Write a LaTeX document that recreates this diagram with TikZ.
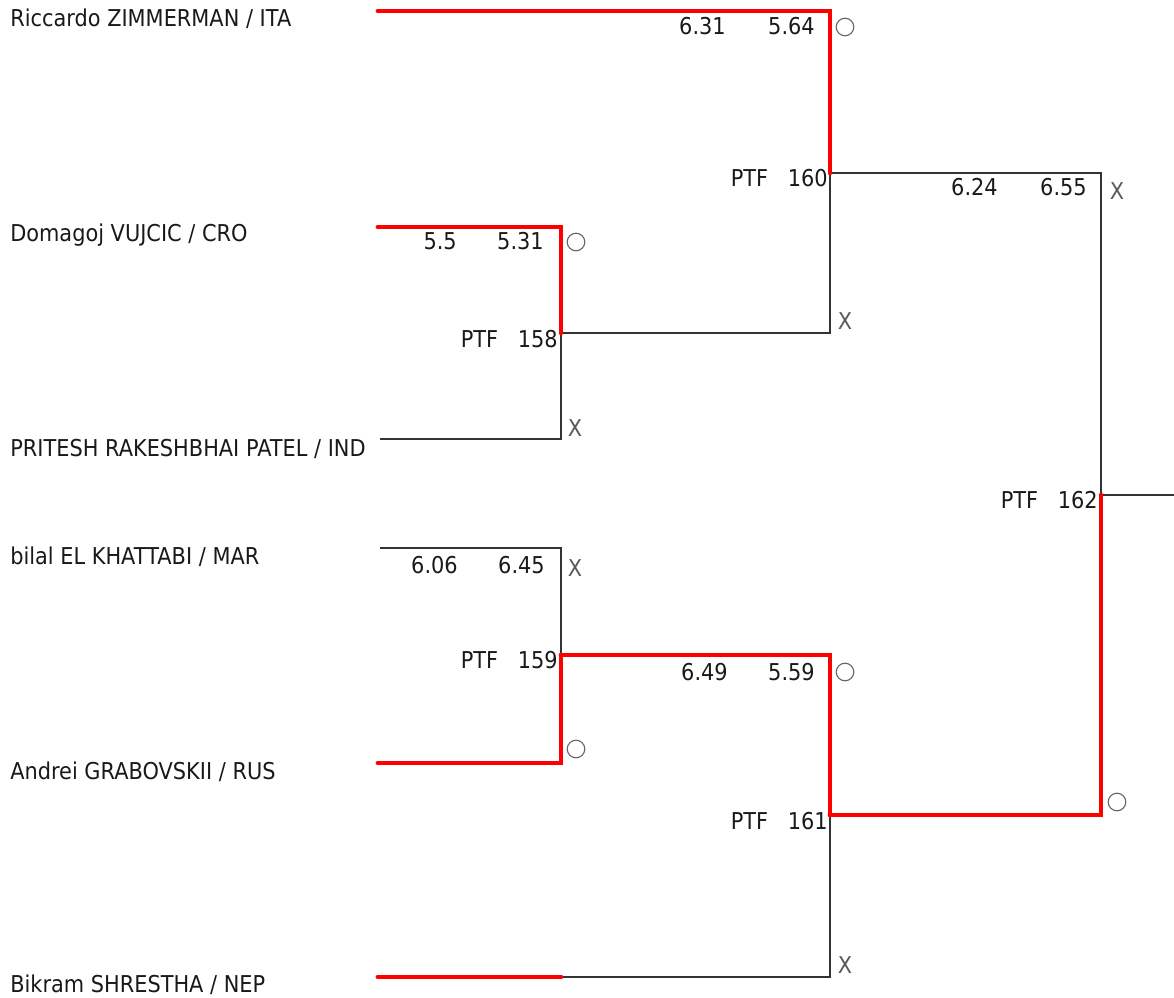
\documentclass[tikz,border=0pt]{standalone}
\usepackage{fontspec}
\setmainfont{DejaVu Sans}[FakeStretch=0.9]
\usetikzlibrary{positioning}

\begin{document}
\begin{tikzpicture}[x=0.025cm, y=-0.025cm]
        \tikzstyle{every node}=[font=\fontsize{16.5}{20}\selectfont, text=black!90, inner sep=0pt]
        \tikzstyle{player}=[anchor=base west]
        \tikzstyle{score}=[anchor=base east]
        \tikzstyle{bout}=[anchor=base east]
        \tikzstyle{lost}=[draw=black!80, line width=1.1pt]
        \tikzstyle{won}=[draw=red, line width=3.4pt, line cap=round]
        \tikzstyle{winmark}=[circle, draw=black!60, line width=0.8pt, minimum size=0.44cm]
        \tikzstyle{lossmark}=[text=black!65]

        \useasboundingbox (0,0) rectangle (1174,997);

        % fencers
        \node[player] (ita) at (10,27)  {Riccardo ZIMMERMAN / ITA};
        \node[player] (cro) at (10,242) {Domagoj VUJCIC / CRO};
        \node[player] (ind) at (10,456) {PRITESH RAKESHBHAI PATEL / IND};
        \node[player] (mar) at (10,564) {bilal EL KHATTABI / MAR};
        \node[player] (rus) at (10,779) {Andrei GRABOVSKII / RUS};
        \node[player] (nep) at (10,992) {Bikram SHRESTHA / NEP};

        % where the lines start
        \coordinate (ita 0) at (378,11);
        \coordinate (cro 0) at (378,227);
        \coordinate (ind 0) at (380,439);
        \coordinate (mar 0) at (380,548);
        \coordinate (rus 0) at (378,763);
        \coordinate (nep 0) at (378,977);
        \coordinate (nep 1) at (561,977);

        % bouts
        \coordinate (158) at (561,333);
        \coordinate (159) at (561,655);
        \coordinate (160) at (830,173);
        \coordinate (161) at (830,815);
        \coordinate (162) at (1101,495);
        \coordinate (162 out) at (1174,495);

        \node[bout] (158 label) at (558,347) {PTF\hspace{14pt}158};
        \node[bout] (159 label) at (558,668) {PTF\hspace{14pt}159};
        \node[bout] (160 label) at (828,187) {PTF\hspace{14pt}160};
        \node[bout] (161 label) at (828,829) {PTF\hspace{14pt}161};
        \node[bout] (162 label) at (1098,508) {PTF\hspace{14pt}162};

        % losing lines
        \draw[lost] (ind 0) -| (158);
        \draw[lost] (mar 0) -| (159);
        \draw[lost] (158) -| (160);
        \draw[lost] (nep 1) -| (161);
        \draw[lost] (160) -| (162);
        \draw[lost] (162) -- (162 out);

        % winning lines
        \draw[won] (ita 0) -| (160);
        \draw[won] (cro 0) -| (158);
        \draw[won] (rus 0) -| (159);
        \draw[won] (nep 0) -- (nep 1);
        \draw[won] (159) -| (161);
        \draw[won] (161) -| (162);

        % scores
        \node[score] (ita s1) at (726,35)  {6.31};
        \node[score] (ita s2) at (815,35)  {5.64};
        \node[score] (cro s1) at (457,250) {5.5};
        \node[score] (cro s2) at (544,250) {5.31};
        \node[score] (mar s1) at (458,573) {6.06};
        \node[score] (mar s2) at (545,573) {6.45};
        \node[score] (159 s1) at (728,680) {6.49};
        \node[score] (159 s2) at (815,680) {5.59};
        \node[score] (160 s1) at (998,196) {6.24};
        \node[score] (160 s2) at (1087,196) {6.55};

        % marks
        \node[winmark] (ita m) at (845,27) {};
        \node[winmark] (cro m) at (576,242) {};
        \node[winmark] (rus m) at (576,749) {};
        \node[winmark] (159 m) at (845,672) {};
        \node[winmark] (161 m) at (1117,802) {};
        \node[lossmark] (ind m) at (575,428) {X};
        \node[lossmark] (mar m) at (575,568) {X};
        \node[lossmark] (158 m) at (845,321) {X};
        \node[lossmark] (nep m) at (845,965) {X};
        \node[lossmark] (160 m) at (1117,191) {X};
\end{tikzpicture}
\end{document}
